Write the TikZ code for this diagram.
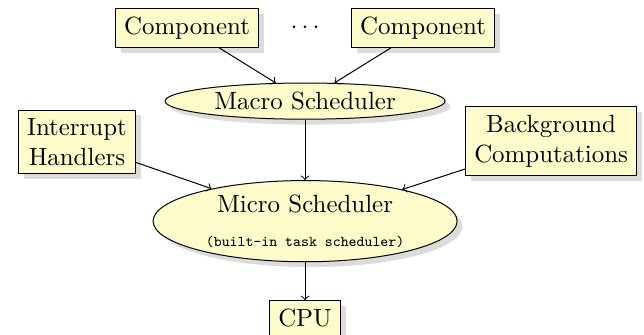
\documentclass[tikz,border=0pt]{standalone}
\usetikzlibrary{shapes.geometric,shadows}
\begin{document}
\begin{tikzpicture}[x = 1pt, y = 1pt,
		box/.style = {draw, fill=yellow!20, drop shadow={opacity=.28}},
		sched/.style = {draw, ellipse, fill=yellow!20, drop shadow={opacity=.28}, inner ysep=1.5pt}]
			\useasboundingbox (0,0) rectangle (258.6,-134.5);
			\node[box] (comp1) at (75.1,-11.2) {Component};
			\node (dots) at (122.5,-11.2) {$\cdots$};
			\node[box] (comp2) at (169.9,-11.2) {Component};
			\node[sched] (macro) at (122.5,-40.6) {Macro Scheduler};
			\node[box, align=center] (intr) at (30.9,-57) {Interrupt\\Handlers};
			\node[box, align=center] (bg) at (221.3,-56.6) {Background\\Computations};
			\node[sched, align=center, inner ysep=1pt] (micro) at (122.5,-88.8) {Micro Scheduler\\[1.5pt]{\fontsize{6}{7}\selectfont\ttfamily (built-in task scheduler)}};
			\node[box] (cpu) at (122.5,-127.7) {CPU};
			\draw[->] (comp1) -- (macro);
			\draw[->] (comp2) -- (macro);
			\draw[->] (macro) -- (micro);
			\draw[->] (intr) -- (micro);
			\draw[->] (bg) -- (micro);
			\draw[->] (micro) -- (cpu);
		\end{tikzpicture}
\end{document}
